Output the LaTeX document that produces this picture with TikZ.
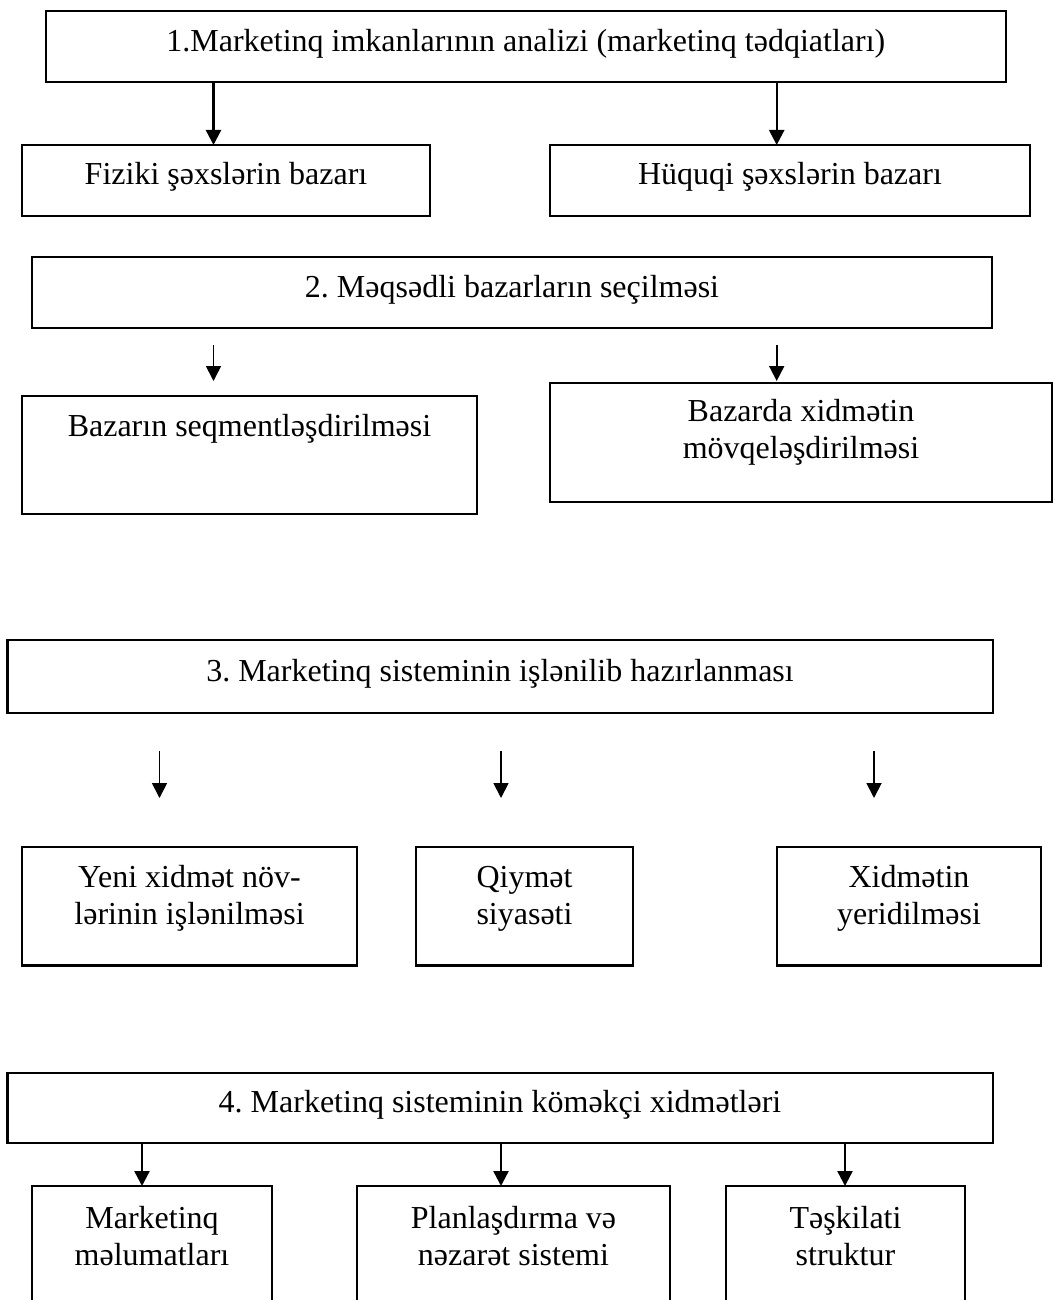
\documentclass[tikz,border=0pt]{standalone}
\usepackage{fontspec}
\setmainfont{Liberation Serif}
\usetikzlibrary{arrows.meta}
\frenchspacing
\tikzset{
  boxst/.style={draw, line width=2.2pt, inner sep=0pt, outer sep=0pt, anchor=north west},
  arrA/.style={line width=2.4pt, -{Triangle[length=15pt,width=15pt]}},
  arrB/.style={line width=1.8pt, -{Triangle[length=15pt,width=15pt]}}
}
% #1 name, #2 x1, #3 y1, #4 x2, #5 y2, #6 first baseline offset, #7 text
\newcommand\mkbox[7]{%
  \node[boxst] (#1) at (#2,#3) {\parbox[c][\dimexpr #5pt-#3pt\relax][t]{\dimexpr #4pt-#2pt\relax}{\centering\frenchspacing\rule{0pt}{#6pt}#7}};}
\begin{document}
\begin{tikzpicture}[x=1pt, y=-1pt, font=\fontsize{32}{37.5}\selectfont]
\path[use as bounding box] (0,0) rectangle (1054,1300);
\fill[white] (0,0) rectangle (1054,1300);
\clip (0,0) rectangle (1054,1300);

% Section 1
\mkbox{B1}{45.6}{11}{1006}{82}{41}{1.Marketinq imkanlarının analizi (marketinq tədqiatları)}
\mkbox{F}{22}{145}{430}{216}{39.5}{Fiziki şəxslərin bazarı}
\mkbox{H}{550}{145}{1030}{216}{39.5}{Hüquqi şəxslərin bazarı}
\coordinate (x1a) at (213.5,0);
\coordinate (x1b) at (776.7,0);
\draw[arrA] (B1.south -| x1a) -- (F.north -| x1a);
\draw[arrA] (B1.south -| x1b) -- (H.north -| x1b);

% Section 2
\mkbox{B2}{32}{257}{992}{328}{40}{2. Məqsədli bazarların seçilməsi}
\mkbox{L}{22}{396}{477}{514}{40}{Bazarın seqmentləşdirilməsi}
\mkbox{R}{550}{383}{1052}{502}{38}{Bazarda xidmətin\\mövqeləşdirilməsi}
\coordinate (s2a) at (213.5,345);
\coordinate (e2a) at (213.5,381);
\coordinate (s2b) at (776.7,345);
\coordinate (e2b) at (776.7,381);
\draw[arrB] (s2a) -- (e2a);
\draw[arrB] (s2b) -- (e2b);

% Section 3
\mkbox{B3}{7.4}{640}{992.6}{713}{41}{3. Marketinq sisteminin işlənilib hazırlanması}
\mkbox{Y}{22}{847}{357}{965.5}{40}{Yeni xidmət növ-\\lərinin işlənilməsi}
\mkbox{Q}{416}{847}{633}{965.5}{40}{Qiymət\\siyasəti}
\mkbox{X}{777}{847}{1041}{965.5}{40}{Xidmətin\\yeridilməsi}
\coordinate (s3a) at (159.5,751);
\coordinate (e3a) at (159.5,798);
\coordinate (s3b) at (501,751);
\coordinate (e3b) at (501,798);
\coordinate (s3c) at (874,751);
\coordinate (e3c) at (874,798);
\draw[arrB] (s3a) -- (e3a);
\draw[arrB] (s3b) -- (e3b);
\draw[arrB] (s3c) -- (e3c);

% Section 4
\mkbox{B4}{7.4}{1072.6}{992.6}{1142.6}{40}{4. Marketinq sisteminin köməkçi xidmətləri}
\mkbox{M}{32}{1186}{272}{1340}{42}{Marketinq\\məlumatları}
\mkbox{P}{357}{1186}{670}{1340}{42}{Planlaşdırma və\\nəzarət sistemi}
\mkbox{T}{726}{1186}{965}{1340}{42}{Təşkilati\\struktur}
\coordinate (x4a) at (142,0);
\coordinate (x4b) at (501,0);
\coordinate (x4c) at (845,0);
\draw[arrA] (B4.south -| x4a) -- (M.north -| x4a);
\draw[arrA] (B4.south -| x4b) -- (P.north -| x4b);
\draw[arrA] (B4.south -| x4c) -- (T.north -| x4c);
\end{tikzpicture}
\end{document}
